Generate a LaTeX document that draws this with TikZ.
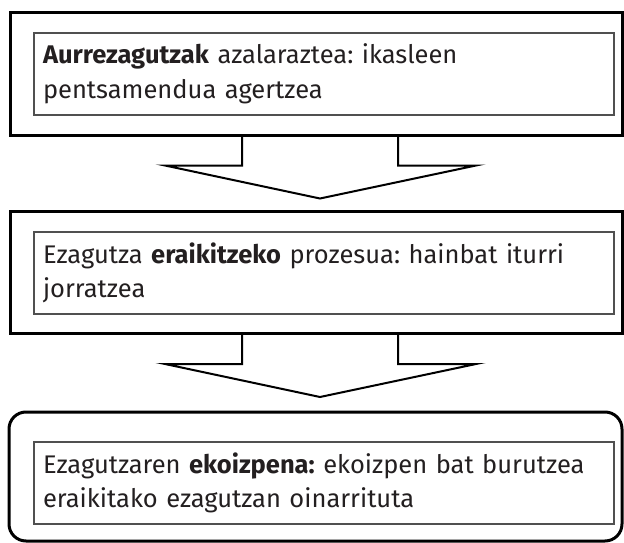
\documentclass[tikz,border=0pt]{standalone}
\usepackage{fontspec}
\setmainfont{Fira Sans}
\usetikzlibrary{calc}
\definecolor{txt}{HTML}{231F20}
\definecolor{innerline}{HTML}{505050}
\frenchspacing
\begin{document}
\begin{tikzpicture}[x=1pt,y=-1pt,
  outerbox/.style={draw=black, line width=3pt, minimum width=612pt, minimum height=122pt, inner sep=0pt},
  roundbox/.style={draw=black, line width=3pt, rounded corners=17pt, minimum width=613pt, minimum height=129pt, inner sep=0pt},
  textbox/.style={draw=innerline, line width=1.3pt, text width=562pt, inner xsep=9pt, inner ysep=0pt,
    minimum height=82pt, align=left, font=\fontsize{25.5}{34.5}\selectfont, text=txt},
  blockarrow/.style={draw=black, line width=2pt, line join=miter}]
\useasboundingbox (0,0) rectangle (624,543);
% box 1
\node[outerbox] (o1) at (316,74) {};
\node[textbox] (t1) at (324,74) {\textbf{Aurrezagutzak} azalaraztea: ikasleen\\pentsamendua agertzea};
% box 2
\node[outerbox] (o2) at (316,272.5) {};
\node[textbox] (t2) at (324,273) {Ezagutza \textbf{eraikitzeko} prozesua: hainbat iturri\\jorratzea};
% box 3
\node[roundbox] (o3) at (315.5,476.5) {};
\node[textbox] (t3) at (324,483) {Ezagutzaren \textbf{ekoizpena:} ekoizpen bat burutzea\\eraikitako ezagutzan oinarrituta};
% arrows
\coordinate (a1) at ($(o1.south)+(4,0)$);
\coordinate (a2) at ($(o2.south)+(4,0)$);
\draw[blockarrow] ($(a1)+(-78,0)$) -- ($(a1)+(-78,29)$) -- ($(a1)+(-155,29)$)
  -- ($(a1)+(0,62)$) -- ($(a1)+(156,29)$) -- ($(a1)+(78,29)$) -- ($(a1)+(78,0)$);
\draw[blockarrow] ($(a2)+(-78,0)$) -- ($(a2)+(-78,29)$) -- ($(a2)+(-155,29)$)
  -- ($(a2)+(0,62)$) -- ($(a2)+(156,29)$) -- ($(a2)+(78,29)$) -- ($(a2)+(78,0)$);
\end{tikzpicture}
\end{document}
